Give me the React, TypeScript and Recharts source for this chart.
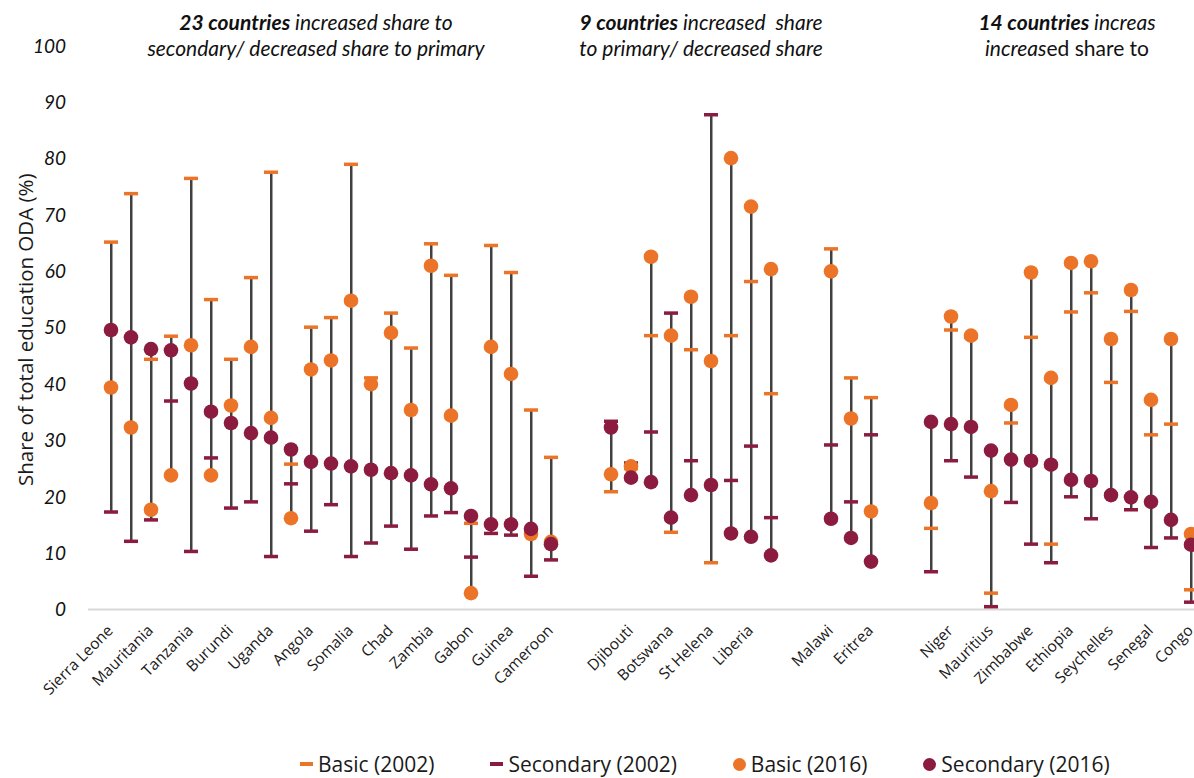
import React from 'react';
import { ComposedChart, Bar, Scatter, XAxis, YAxis } from 'recharts';

// country names per group, in plotting order ('' = label not shown on the axis)
const group1 = ['Sierra Leone', '', 'Mauritania', '', 'Tanzania', '', 'Burundi', '', 'Uganda', '', 'Angola', '', 'Somalia', '', 'Chad', '', 'Zambia', '', 'Gabon', '', 'Guinea', '', 'Cameroon'];
const group2 = ['', 'Djibouti', '', 'Botswana', '', 'St Helena', '', 'Liberia', ''];
const group3 = ['Malawi', '', 'Eritrea'];
const group4 = ['', 'Niger', '', 'Mauritius', '', 'Zimbabwe', '', 'Ethiopia', '', 'Seychelles', '', 'Senegal', '', 'Congo'];
const groups = [group1, group2, group3, group4];
const GROUP_GAP = 2;

const basic2002 = [
  65.2, 73.8, 44.4, 48.5, 76.5, 55.0, 44.4, 58.9, 77.6, 25.8, 50.1, 51.8, 79.0, 41.1, 52.6, 46.4, 64.9, 59.3, 15.3, 64.6, 59.8, 35.4, 27.0,
  20.9, 25.0, 48.6, 13.7, 46.1, 8.3, 48.6, 58.2, 38.3,
  64.0, 41.1, 37.6,
  14.4, 49.6, 48.3, 2.9, 33.1, 48.3, 11.6, 52.8, 56.2, 40.3, 52.9, 31.0, 32.9, 3.5,
];
const secondary2002 = [
  17.3, 12.1, 15.9, 37.0, 10.3, 26.9, 18.0, 19.1, 9.4, 22.3, 13.9, 18.6, 9.4, 11.8, 14.8, 10.7, 16.6, 17.2, 9.3, 13.5, 13.2, 5.9, 8.8,
  33.4, 26.0, 31.5, 52.6, 26.4, 87.8, 22.9, 29.0, 16.3,
  29.2, 19.1, 31.0,
  6.7, 26.4, 23.5, 0.5, 19.0, 11.6, 8.3, 20.0, 16.1, 20.5, 17.7, 11.0, 12.7, 1.3,
];
const basic2016 = [
  39.4, 32.3, 17.7, 23.8, 46.9, 23.8, 36.2, 46.6, 34.0, 16.2, 42.6, 44.2, 54.8, 40.0, 49.1, 35.4, 61.0, 34.4, 2.9, 46.6, 41.8, 13.4, 12.0,
  24.0, 25.4, 62.6, 48.6, 55.5, 44.1, 80.1, 71.5, 60.4,
  60.0, 33.9, 17.4,
  18.9, 52.0, 48.6, 21.0, 36.3, 59.8, 41.1, 61.5, 61.8, 48.0, 56.7, 37.2, 48.0, 13.4,
];
const secondary2016 = [
  49.6, 48.3, 46.2, 46.0, 40.1, 35.1, 33.1, 31.3, 30.5, 28.4, 26.2, 25.9, 25.4, 24.8, 24.2, 23.8, 22.2, 21.5, 16.6, 15.1, 15.1, 14.3, 11.6,
  32.3, 23.4, 22.6, 16.3, 20.3, 22.1, 13.5, 12.9, 9.6,
  16.1, 12.7, 8.5,
  33.3, 32.9, 32.4, 28.2, 26.6, 26.4, 25.7, 23.0, 22.8, 20.3, 19.9, 19.1, 15.9, 11.5,
];

const yTicks = [0, 10, 20, 30, 40, 50, 60, 70, 80, 90, 100];

const ORANGE = '#ec7428';
const MAROON = '#8b1b3f';
const STEM = '#404040';

type Row = {
  slot: number;
  name: string;
  b02: number;
  s02: number;
  b16: number;
  s16: number;
  range: [number, number];
};

const rows: Row[] = [];
let slot = 0;
let i = 0;
groups.forEach((names, g) => {
  if (g > 0) slot += GROUP_GAP;
  names.forEach((name) => {
    const vals = [basic2002[i], secondary2002[i], basic2016[i], secondary2016[i]];
    rows.push({
      slot,
      name,
      b02: basic2002[i],
      s02: secondary2002[i],
      b16: basic2016[i],
      s16: secondary2016[i],
      range: [Math.min(...vals), Math.max(...vals)],
    });
    slot++;
    i++;
  });
});
const lastSlot = slot - 1;
const labelSlots = rows.filter((r) => r.name).map((r) => r.slot);
const nameBySlot: Record<number, string> = {};
rows.forEach((r) => (nameBySlot[r.slot] = r.name));

const Cap = (props: any) => {
  const { cx, cy, fill } = props;
  if (cx == null || cy == null) return null;
  return <rect x={cx - 7} y={cy - 1.75} width={14} height={3.5} fill={fill} />;
};

const Dot = (props: any) => {
  const { cx, cy, fill } = props;
  if (cx == null || cy == null) return null;
  return <circle cx={cx} cy={cy} r={7.3} fill={fill} />;
};

const CountryTick = (props: any) => {
  const { x, y, payload } = props;
  const tx = x + 3;
  const ty = y + 22;
  return (
    <text
      x={tx}
      y={ty}
      transform={`rotate(-45, ${tx}, ${ty})`}
      textAnchor="end"
      fontFamily="'Open Sans', sans-serif"
      fontSize={15.5}
      fill="#1a1a1a"
    >
      {nameBySlot[payload.value]}
    </text>
  );
};

const AxisTitle = (props: any) => {
  const { viewBox } = props;
  const cx = viewBox.x + 25;
  const cy = viewBox.y + viewBox.height / 2 + 2;
  return (
    <text
      x={cx}
      y={cy}
      transform={`rotate(-90, ${cx}, ${cy})`}
      textAnchor="middle"
      dominantBaseline="central"
      fontFamily="'Open Sans', sans-serif"
      fontSize={20.5}
      fill="#1a1a1a"
    >
      Share of total education ODA (%)
    </text>
  );
};

const headerStyle: React.CSSProperties = {
  position: 'absolute',
  top: 9,
  width: 520,
  textAlign: 'center',
  fontFamily: 'Lato, sans-serif',
  fontStyle: 'italic',
  fontSize: 21,
  lineHeight: '26px',
  color: '#111',
  whiteSpace: 'pre',
};

const legendItems = [
  { label: 'Basic (2002)', color: ORANGE, kind: 'dash' },
  { label: 'Secondary (2002)', color: MAROON, kind: 'dash' },
  { label: 'Basic (2016)', color: ORANGE, kind: 'dot' },
  { label: 'Secondary (2016)', color: MAROON, kind: 'dot' },
];

export default function App() {
  return (
    <div
      style={{
        position: 'fixed',
        left: 0,
        top: 0,
        width: 1194,
        height: 778,
        overflow: 'hidden',
        background: '#fff',
      }}
    >
      <ComposedChart
        width={1220}
        height={778}
        data={rows}
        margin={{ top: 46, right: 19, bottom: 68.5, left: 0 }}
      >
        <XAxis
          dataKey="slot"
          type="number"
          domain={[-1.15, lastSlot + 0.5]}
          allowDataOverflow
          ticks={labelSlots}
          interval={0}
          tick={<CountryTick />}
          tickLine={false}
          tickSize={0}
          tickMargin={0}
          height={100}
          axisLine={{ stroke: '#d9d9d9', strokeWidth: 2 }}
        />
        <YAxis
          type="number"
          domain={[0, 100]}
          ticks={yTicks}
          interval={0}
          width={88}
          tickLine={false}
          axisLine={false}
          tickSize={0}
          tickMargin={22}
          tick={{ fontFamily: 'Lato, sans-serif', fontStyle: 'italic', fontSize: 19, fill: '#111' }}
          label={<AxisTitle />}
        />
        <Bar dataKey="range" barSize={2.5} fill={STEM} isAnimationActive={false} />
        <Scatter dataKey="b02" fill={ORANGE} shape={<Cap />} isAnimationActive={false} />
        <Scatter dataKey="s02" fill={MAROON} shape={<Cap />} isAnimationActive={false} />
        <Scatter dataKey="b16" fill={ORANGE} shape={<Dot />} isAnimationActive={false} />
        <Scatter dataKey="s16" fill={MAROON} shape={<Dot />} isAnimationActive={false} />
      </ComposedChart>

      <div style={{ ...headerStyle, left: 316 - 260 }}>
        <b>23 countries</b> increased share to{'\n'}secondary/ decreased share to primary
      </div>
      <div style={{ ...headerStyle, left: 701 - 260 }}>
        <b>9 countries</b> increased  share{'\n'}to primary/ decreased share
      </div>
      <div style={{ ...headerStyle, left: 1067 - 260 }}>
        <b>14 countries</b> increas{'\n'}increas<span style={{ fontStyle: 'normal' }}>ed share to</span>
      </div>

      <div
        style={{
          position: 'absolute',
          left: 300,
          top: 751,
          display: 'flex',
          alignItems: 'center',
          gap: 56,
          fontFamily: "'Open Sans', sans-serif",
          fontSize: 21,
          lineHeight: '26px',
          color: '#1a1a1a',
          whiteSpace: 'nowrap',
        }}
      >
        {legendItems.map((it) => (
          <div key={it.label} style={{ display: 'flex', alignItems: 'center' }}>
            {it.kind === 'dash' ? (
              <span style={{ width: 13, height: 4, background: it.color, marginRight: 5 }} />
            ) : (
              <span style={{ width: 13, height: 13, borderRadius: '50%', background: it.color, marginRight: 5 }} />
            )}
            {it.label}
          </div>
        ))}
      </div>
    </div>
  );
}
